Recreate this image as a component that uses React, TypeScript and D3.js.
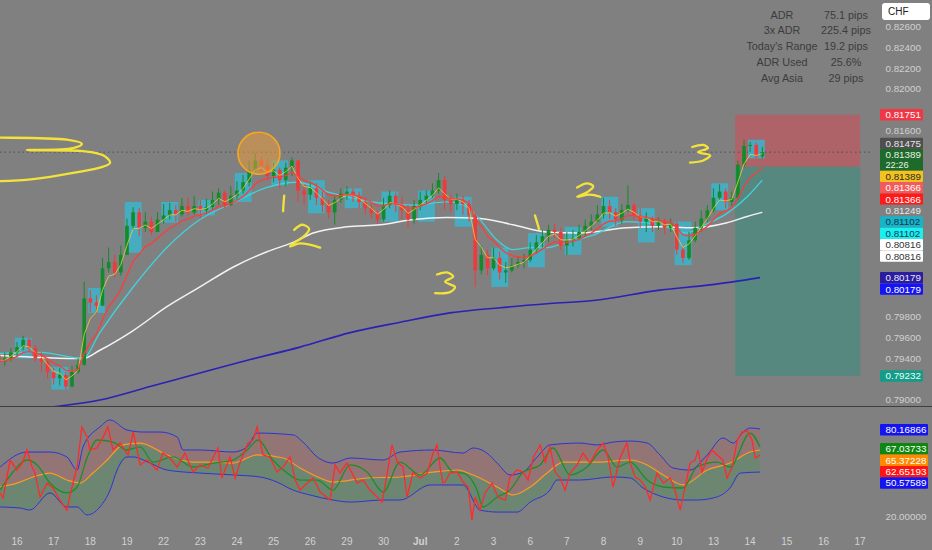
import React, { useEffect } from "react";
import * as d3 from "d3";

// ---- layout ----
const W = 932;
const H = 550;
const PLOT_R = 870;
const SPLIT = 406.5;

// ---- time axis (trading-day index, 0 = Jun 16) ----
const dayLabels = ["16", "17", "18", "19", "22", "23", "24", "25", "26", "29", "30", "Jul", "2", "3", "6", "7", "8", "9", "10", "13", "14", "15", "16", "17"];

// ---- 4h candles, starting Jun 15 12:00 ----
const candleStart = -0.5;
const candlesPerDay = 6;
const firstOpen = 0.7943;
const closes = [
  0.7937, 0.794, 0.7946, 0.7951, 0.7958, 0.795, 0.794, 0.7937, 0.7927, 0.7921,
  0.7924, 0.7913, 0.7927, 0.7934, 0.7998, 0.7994, 0.7991, 0.8027, 0.8033, 0.8023,
  0.804, 0.8068, 0.8081, 0.8066, 0.8072, 0.8062, 0.8074, 0.8078, 0.8083, 0.8079,
  0.8087, 0.8081, 0.8087, 0.8083, 0.8086, 0.8093, 0.81, 0.8088, 0.8097, 0.8102,
  0.811, 0.8122, 0.8131, 0.8126, 0.8116, 0.8122, 0.8112, 0.8124, 0.8131, 0.8102,
  0.8098, 0.8104, 0.8095, 0.8088, 0.8081, 0.8093, 0.8099, 0.8101, 0.8097, 0.8091,
  0.8085, 0.808, 0.8074, 0.8088, 0.8097, 0.8088, 0.8083, 0.8074, 0.8087, 0.8093,
  0.8097, 0.8102, 0.8112, 0.8093, 0.8089, 0.8093, 0.8089, 0.8078, 0.8025, 0.804,
  0.8027, 0.8037, 0.8023, 0.8025, 0.803, 0.8033, 0.8035, 0.8045, 0.8052, 0.8058,
  0.8064, 0.8062, 0.8049, 0.8054, 0.8056, 0.8062, 0.8068, 0.8072, 0.8079, 0.8087,
  0.8081, 0.8074, 0.8083, 0.8088, 0.8078, 0.8072, 0.8075, 0.8068, 0.8072, 0.8066,
  0.807, 0.8045, 0.8037, 0.8054, 0.8066, 0.8075, 0.8083, 0.8095, 0.8101, 0.8091,
  0.8095, 0.8127, 0.8145, 0.8146, 0.8135, 0.8139,
];
const highs = [
  0.7943, 0.7946, 0.795, 0.7956, 0.7962, 0.796, 0.7953, 0.7946, 0.7939, 0.7931,
  0.7931, 0.7927, 0.7933, 0.794, 0.8014, 0.8006, 0.8001, 0.8037, 0.8047, 0.804,
  0.8049, 0.8075, 0.8086, 0.8085, 0.8081, 0.8077, 0.8081, 0.8089, 0.809, 0.8088,
  0.8095, 0.8095, 0.8097, 0.8093, 0.8094, 0.8101, 0.8104, 0.8102, 0.8106, 0.8111,
  0.8117, 0.8131, 0.8138, 0.8135, 0.8131, 0.8129, 0.8124, 0.8129, 0.8134, 0.8131,
  0.8107, 0.811, 0.8109, 0.8101, 0.8093, 0.8098, 0.8104, 0.8106, 0.8104, 0.8101,
  0.8095, 0.8089, 0.8083, 0.8095, 0.8102, 0.81, 0.8096, 0.8088, 0.8093, 0.8101,
  0.8102, 0.8109, 0.8119, 0.8116, 0.8098, 0.8099, 0.8097, 0.8093, 0.8081, 0.8049,
  0.8045, 0.8047, 0.8043, 0.8033, 0.8037, 0.8039, 0.8041, 0.8052, 0.8059, 0.8064,
  0.8069, 0.807, 0.8066, 0.8062, 0.8064, 0.8069, 0.8074, 0.8079, 0.8088, 0.8095,
  0.8093, 0.8085, 0.8089, 0.8107, 0.809, 0.8085, 0.8081, 0.8077, 0.8076, 0.8075,
  0.8075, 0.8072, 0.8049, 0.8062, 0.8072, 0.8083, 0.8088, 0.8104, 0.8108, 0.8104,
  0.8101, 0.8131, 0.8151, 0.8149, 0.8148, 0.8144,
];
const lows = [
  0.7931, 0.7933, 0.7937, 0.7942, 0.7948, 0.7946, 0.7937, 0.7927, 0.7921, 0.7915,
  0.7914, 0.791, 0.7912, 0.7925, 0.7933, 0.7985, 0.7983, 0.7991, 0.8023, 0.8018,
  0.802, 0.804, 0.8064, 0.8058, 0.8062, 0.8059, 0.8062, 0.807, 0.8074, 0.8072,
  0.8077, 0.8078, 0.8079, 0.8075, 0.8079, 0.8083, 0.8088, 0.8085, 0.8087, 0.8093,
  0.8099, 0.8106, 0.812, 0.8118, 0.8112, 0.811, 0.8104, 0.8106, 0.8116, 0.8091,
  0.8088, 0.8093, 0.8088, 0.8081, 0.8075, 0.8069, 0.809, 0.8093, 0.8091, 0.8085,
  0.8079, 0.8075, 0.807, 0.8072, 0.8085, 0.8081, 0.8074, 0.8066, 0.807, 0.8083,
  0.8089, 0.8095, 0.8099, 0.8083, 0.8081, 0.8083, 0.8079, 0.8072, 0.8009, 0.8021,
  0.802, 0.8025, 0.8016, 0.8013, 0.8023, 0.8027, 0.8027, 0.8033, 0.8041, 0.8047,
  0.8052, 0.8056, 0.8045, 0.804, 0.8048, 0.8054, 0.8058, 0.8064, 0.8072, 0.8075,
  0.8075, 0.8068, 0.807, 0.8081, 0.8074, 0.8066, 0.8062, 0.8062, 0.8064, 0.806,
  0.8062, 0.804, 0.8032, 0.8035, 0.8052, 0.8062, 0.8072, 0.8081, 0.8093, 0.8085,
  0.8087, 0.8093, 0.8124, 0.8139, 0.8133, 0.8133,
];

// ---- Asia session boxes (day index, high, low) ----
const sessionDays = [0, 1, 2, 3, 4, 5, 6, 7, 8, 9, 10, 11, 12, 13, 14, 15, 16, 17, 18, 19, 20];
const sessionHigh = [0.796, 0.7932, 0.8008, 0.8091, 0.8091, 0.8093, 0.8119, 0.8131, 0.8112, 0.8104, 0.8101, 0.8102, 0.8096, 0.8047, 0.8061, 0.8067, 0.8096, 0.8085, 0.8072, 0.8109, 0.8151];
const sessionLow = [0.794, 0.791, 0.7984, 0.8042, 0.8071, 0.8078, 0.8091, 0.8107, 0.808, 0.8085, 0.8072, 0.8072, 0.8067, 0.8009, 0.8028, 0.804, 0.8067, 0.8052, 0.803, 0.8083, 0.8133];

// ---- slow moving averages [day, price] ----
const maCyan: [number, number][] = [
  [-0.46, 0.7945], [0.63, 0.7946], [1.8, 0.794], [2.26, 0.7965], [3.17, 0.8009], [4.09, 0.8047],
  [4.99, 0.8074], [5.89, 0.809], [6.82, 0.8105], [7.64, 0.811], [8.54, 0.81], [9.9, 0.809],
  [10.8, 0.8088], [11.73, 0.8091], [12.28, 0.8086], [12.63, 0.8074], [13.1, 0.8054], [13.53, 0.8045],
  [14.0, 0.8047], [14.46, 0.8047], [14.9, 0.8051], [15.72, 0.8059], [16.64, 0.8072], [17.54, 0.8069],
  [18.28, 0.8061], [18.64, 0.8067], [19.37, 0.808], [19.92, 0.8096], [20.33, 0.8112],
];
const maWhite: [number, number][] = [
  [-0.46, 0.7943], [1.8, 0.794], [2.26, 0.7948], [3.17, 0.7967], [4.09, 0.799], [4.99, 0.8009],
  [5.89, 0.8028], [6.82, 0.8043], [7.53, 0.8052], [8.08, 0.8061], [9.0, 0.8067], [9.9, 0.8069],
  [10.8, 0.8074], [11.73, 0.8076], [12.63, 0.8075], [13.53, 0.8069], [14.46, 0.8062], [15.36, 0.8061],
  [16.64, 0.8066], [17.54, 0.8067], [18.44, 0.8066], [19.37, 0.8071], [19.92, 0.8077], [20.33, 0.8081],
];
const maBlue: [number, number][] = [
  [-0.46, 0.7888], [0.9, 0.7893], [2.26, 0.79], [3.63, 0.7913], [4.99, 0.7926], [6.36, 0.7939],
  [7.72, 0.7951], [9.09, 0.7965], [10.45, 0.7975], [11.81, 0.7984], [13.18, 0.7989], [14.54, 0.7993],
  [15.72, 0.7996], [17.54, 0.8006], [18.91, 0.8011], [20.27, 0.8018],
];

// ---- oscillator panel [day, value] ----
const oscLine: [number, number][] = [
  [-0.46, 36.6], [-0.38, 33.1], [-0.19, 59.3], [0, 52.4], [0.16, 57.9], [0.27, 66.2], [0.41, 54.5], [0.49, 50.3],
  [0.63, 33.8], [0.82, 43.4], [0.98, 40], [1.17, 31.7], [1.36, 24.8], [1.5, 40.7], [1.64, 54.5], [1.77, 82.1],
  [1.91, 75.2], [1.99, 66.2], [2.18, 67.6], [2.35, 75.2], [2.48, 82.1], [2.62, 66.2], [2.81, 71], [3.03, 62.8],
  [3.17, 78.6], [3.36, 55.9], [3.55, 59.3], [3.82, 52.4], [3.98, 64.1], [4.17, 60.7], [4.37, 54.5], [4.58, 64.1],
  [4.8, 51], [4.99, 55.9], [5.21, 53.8], [5.48, 67.6], [5.59, 46.9], [5.81, 61.4], [5.95, 46.9], [6.08, 57.2],
  [6.3, 71], [6.44, 73.1], [6.55, 82.1], [6.71, 62.8], [6.9, 61.4], [7.09, 51], [7.26, 54.5], [7.45, 61.4],
  [7.59, 45.5], [7.72, 38.6], [7.86, 42.1], [8.08, 46.9], [8.27, 37.2], [8.54, 31.7], [8.68, 55.9], [8.81, 50.3],
  [9.0, 57.2], [9.28, 43.4], [9.44, 45.5], [9.63, 38.6], [9.82, 33.8], [9.96, 30.3], [10.1, 50.3], [10.23, 69.7],
  [10.37, 57.9], [10.53, 54.5], [10.64, 33.8], [10.8, 50.3], [11.0, 46.9], [11.19, 50.3], [11.35, 64.1], [11.46, 69.7],
  [11.54, 54.5], [11.62, 43.4], [11.68, 44.1], [11.81, 50.3], [12.01, 51], [12.17, 44.1], [12.31, 40.7], [12.41, 17.9],
  [12.5, 33.8], [12.63, 24.8], [12.77, 36.6], [12.96, 43.4], [13.12, 33.8], [13.32, 31.7], [13.45, 47.6], [13.64, 52.4],
  [13.81, 51], [13.94, 45.5], [14.08, 60.7], [14.27, 69.7], [14.41, 57.9], [14.54, 68.3], [14.68, 51], [14.82, 46.9],
  [14.95, 38.6], [15.09, 50.3], [15.28, 55.9], [15.44, 64.1], [15.63, 57.2], [15.83, 66.2], [15.99, 71], [16.13, 60.7],
  [16.26, 40.7], [16.45, 60.7], [16.64, 71], [16.73, 57.2], [16.86, 47.6], [17.0, 45.5], [17.14, 40.7], [17.27, 31.7],
  [17.46, 50.3], [17.63, 43.4], [17.82, 46.9], [17.95, 38.6], [18.09, 24.8], [18.23, 40.7], [18.36, 57.2], [18.5, 59.3],
  [18.58, 66.2], [18.69, 51], [18.83, 60.7], [18.96, 66.2], [19.1, 62.8], [19.26, 59.3], [19.37, 46.9], [19.51, 54.5],
  [19.65, 73.1], [19.78, 78.6], [19.92, 79.3], [20.05, 73.1], [20.14, 60.7], [20.27, 62.8],
];
const oscUpper: [number, number][] = [
  [-0.46, 54.5], [0.27, 64.8], [0.9, 64.8], [1.36, 61.4], [1.64, 52.4], [1.8, 68.3], [2.26, 82.1], [2.54, 86.9],
  [3.0, 80], [3.44, 78.6], [3.9, 78.6], [4.37, 75.2], [4.53, 66.2], [4.99, 66.2], [5.89, 64.8], [6.28, 68.3],
  [6.55, 77.9], [7.53, 76.6], [7.8, 71.7], [8.19, 61.4], [8.62, 57.2], [9.09, 60.7], [9.99, 59.3], [10.45, 64.8],
  [11.35, 66.2], [12.17, 64.1], [12.44, 67.6], [12.82, 64.1], [13.1, 57.2], [13.45, 49], [13.81, 51], [14.19, 61.4],
  [14.54, 69.7], [15.36, 71], [15.83, 69.7], [16.26, 71.7], [16.73, 72.4], [17.19, 71], [17.54, 62.8], [17.9, 53.8],
  [18.36, 52.4], [18.83, 62.8], [19.26, 74.5], [19.54, 71], [19.81, 78.6], [20.0, 81.4], [20.27, 80.7],
];
const oscLower: [number, number][] = [
  [-0.46, 26.9], [0.08, 26.2], [0.35, 24.8], [0.9, 36.6], [1.36, 26.9], [1.64, 26.9], [1.91, 21.4], [2.26, 26.9],
  [2.54, 38.6], [2.73, 52.4], [3.0, 61.4], [3.17, 61.4], [3.63, 57.2], [4.09, 52.4], [4.99, 50.3], [5.89, 49],
  [6.63, 47.6], [7.09, 44.1], [7.53, 38.6], [7.99, 35.2], [8.62, 31.7], [9.09, 30.3], [9.99, 31.7], [10.45, 31.7],
  [11.27, 42.1], [12.17, 42.1], [12.63, 24.8], [13.1, 23.4], [13.64, 23.4], [14.0, 30.3], [14.54, 38.6], [14.73, 45.5],
  [15.36, 45.5], [16.26, 47.6], [16.73, 46.9], [17.08, 40], [17.63, 33.8], [18.17, 31.7], [18.55, 31.7], [18.99, 33.1],
  [19.45, 40], [19.73, 50.3], [20.27, 51],
];
const oscMid: [number, number][] = [
  [-0.46, 40.7], [0, 43.4], [0.44, 47.6], [0.9, 50.3], [1.36, 45.5], [1.72, 43.4], [2.07, 50.3], [2.46, 59.3],
  [2.89, 69.7], [3.36, 71], [4.09, 62.8], [4.8, 57.9], [5.46, 57.9], [5.89, 57.2], [6.55, 62.8], [7.26, 60.7],
  [7.72, 53.8], [8.27, 46.9], [8.62, 44.1], [9.55, 46.9], [10.45, 47.6], [11.35, 51], [12.01, 52.4], [12.44, 49],
  [13.1, 40.7], [13.53, 35.2], [14.0, 40.7], [14.46, 50.3], [14.9, 57.9], [15.83, 57.9], [16.73, 59.3], [17.19, 55.9],
  [17.63, 49], [18.17, 42.1], [18.83, 52.4], [19.45, 57.2], [20.0, 64.8], [20.27, 66.2],
];
const oscSignal: [number, number][] = [
  [-0.46, 38.6], [-0.11, 51], [0.27, 59.3], [0.55, 55.9], [0.9, 43.4], [1.36, 36.6], [1.64, 40.7], [1.91, 60.7],
  [2.18, 73.1], [2.62, 71.7], [3.0, 66.2], [3.36, 68.3], [3.71, 57.9], [4.26, 61.4], [4.8, 54.5], [5.35, 57.2],
  [5.89, 59.3], [6.28, 66.2], [6.58, 73.1], [6.98, 59.3], [7.37, 50.3], [7.72, 45.5], [8.19, 45.5], [8.62, 38.6],
  [9.09, 55.9], [9.55, 51], [9.99, 37.2], [10.45, 57.9], [11.0, 49], [11.54, 60.7], [11.9, 51], [12.17, 50.3],
  [12.55, 38.6], [12.71, 26.9], [13.1, 33.8], [13.45, 38.6], [13.81, 51], [14.27, 55.9], [14.62, 67.6], [15.09, 49],
  [15.55, 54.5], [15.99, 66.2], [16.37, 54.5], [16.73, 57.9], [17.19, 45.5], [17.63, 40.7], [18.17, 40], [18.55, 54.5],
  [19.1, 57.9], [19.45, 54.5], [20.0, 77.9], [20.27, 68.3],
];

// ---- long/short position tool ----
const posStart = 19.59;
const posEnd = 23.0;
const posStop = 0.81751;
const posEntry = 0.81249;
const posTarget = 0.79232;

// ---- right-scale value tags ----
const priceTags = [
  { v: 0.81751, text: "0.81751", bg: "#f23645", fg: "#ffffff" },
  { v: 0.81475, text: "0.81475", bg: "#4f4f4f", fg: "#e6e6e6" },
  { v: 0.81389, text: "0.81389", sub: "22:26", bg: "#1d6a2a", fg: "#e8f0e8" },
  { v: 0.81389, text: "0.81389", bg: "#f4c21c", fg: "#2b2b2b" },
  { v: 0.81366, text: "0.81366", bg: "#f25b5b", fg: "#ffffff" },
  { v: 0.81366, text: "0.81366", bg: "#ff1a1a", fg: "#ffffff" },
  { v: 0.81249, text: "0.81249", bg: "#808080", fg: "#e8e8e8" },
  { v: 0.81102, text: "0.81102", bg: "#17b3c6", fg: "#173450" },
  { v: 0.81102, text: "0.81102", bg: "#19f0f0", fg: "#173450" },
  { v: 0.80816, text: "0.80816", bg: "#ffffff", fg: "#333333" },
  { v: 0.80816, text: "0.80816", bg: "#ffffff", fg: "#333333" },
  { v: 0.80179, text: "0.80179", bg: "#2c1d9c", fg: "#e8e8ff" },
  { v: 0.80179, text: "0.80179", bg: "#1414f5", fg: "#ffffff" },
  { v: 0.79232, text: "0.79232", bg: "#159c88", fg: "#e8fff8" },
];
const oscTags = [
  { v: 80.16866, text: "80.16866", bg: "#1414f0", fg: "#ffffff" },
  { v: 67.03733, text: "67.03733", bg: "#0d870f", fg: "#ffffff" },
  { v: 65.37228, text: "65.37228", bg: "#ff8a00", fg: "#ffffff" },
  { v: 62.65193, text: "62.65193", bg: "#ff1414", fg: "#ffffff" },
  { v: 50.57589, text: "50.57589", bg: "#1414f0", fg: "#ffffff" },
];
const oscTicks = [20, 40, 60, 80];

// ---- stats table ----
const statLabels = ["ADR", "3x ADR", "Today's Range", "ADR Used", "Avg Asia"];
const statValues = ["75.1 pips", "225.4 pips", "19.2 pips", "25.6%", "29 pips"];

// ---- hand drawn marks [day, price] ----
const scribbles: [number, number][][] = [
  [[-0.8, 0.8153], [-0.46, 0.8153], [1.36, 0.8151], [1.77, 0.8147], [1.53, 0.8143], [0.27, 0.8141],
   [1.8, 0.814], [2.35, 0.8136], [2.54, 0.8129], [2.35, 0.8125], [1.53, 0.8119], [0.44, 0.8113], [-0.46, 0.8111], [-0.8, 0.8111]],
  [[7.29, 0.8097], [7.27, 0.8089], [7.26, 0.8082]],
  [[7.56, 0.8064], [7.78, 0.8069], [7.97, 0.8065], [7.83, 0.8058], [7.5, 0.805], [7.45, 0.8048], [7.72, 0.8051], [8.27, 0.8047]],
  [[11.46, 0.8021], [11.73, 0.8023], [11.9, 0.8019], [11.68, 0.8014], [11.95, 0.8009], [11.81, 0.8004], [11.41, 0.8003]],
  [[14.13, 0.8078], [14.19, 0.8071], [14.24, 0.8065]],
  [[15.28, 0.8105], [15.55, 0.8109], [15.72, 0.8106], [15.58, 0.8101], [15.28, 0.8096], [15.63, 0.8098], [15.91, 0.8096]],
  [[18.42, 0.8144], [18.72, 0.8146], [18.85, 0.8143], [18.58, 0.8139], [18.91, 0.8136], [18.72, 0.8131], [18.36, 0.8129]],
];
const circleMark: [number, number] = [6.6, 0.8138];

const FONT = "'Liberation Sans', Arial, sans-serif";
const TAG_H = 11.4;
const TAG_FS = 9.8;
const TWO_LINE_H = 21.6;

function ema(values: number[], n: number) {
  const a = 2 / (n + 1);
  let e = values[0];
  return values.map((v) => (e = e + a * (v - e)));
}

function interp(series: [number, number][], t: number) {
  const i = d3.bisector((d: [number, number]) => d[0]).right(series, t);
  if (i <= 0) return series[0][1];
  if (i >= series.length) return series[series.length - 1][1];
  const [t0, v0] = series[i - 1];
  const [t1, v1] = series[i];
  return v0 + ((v1 - v0) * (t - t0)) / (t1 - t0);
}

// push overlapping tags downward, like the price scale does
function stack(tags: { v: number; sub?: string }[], scale: (v: number) => number) {
  let bottom = -Infinity;
  return tags.map((tg) => {
    const h = tg.sub ? TWO_LINE_H : TAG_H;
    const top = Math.max(scale(tg.v) - TAG_H / 2, bottom);
    bottom = top + h;
    return { top, h };
  });
}

export default function App() {
  useEffect(() => {
    document.body.style.margin = "0";
    document.body.style.background = "#808080";
  }, []);

  const x = d3.scaleLinear().domain([-0.464, 23.27]).range([0, PLOT_R]);
  const y = d3.scaleLinear().domain([0.79, 0.826]).range([400, 26.7]);
  const yo = d3.scaleLinear().domain([20, 80]).range([517, 430]);

  const step = (x(1) - x(0)) / candlesPerDay;
  const bodyW = step * 0.6;
  const candles = closes.map((c, k) => ({
    t: candleStart + k / candlesPerDay,
    o: k === 0 ? firstOpen : closes[k - 1],
    c,
    h: highs[k],
    l: lows[k],
  }));
  const emaFast = ema(closes, 3);
  const emaSlow = ema(closes, 8);
  const emaPts = (vals: number[]) => vals.map((v, k) => [candles[k].t, v] as [number, number]);

  const priceLine = d3.line<[number, number]>().x((d) => x(d[0])).y((d) => y(d[1]));
  const smoothPrice = d3.line<[number, number]>().x((d) => x(d[0])).y((d) => y(d[1])).curve(d3.curveMonotoneX);
  const oscLinePath = d3.line<[number, number]>().x((d) => x(d[0])).y((d) => yo(d[1]));
  const oscSmooth = d3.line<[number, number]>().x((d) => x(d[0])).y((d) => yo(d[1])).curve(d3.curveMonotoneX);
  const scribblePath = d3.line<[number, number]>().x((d) => x(d[0])).y((d) => y(d[1])).curve(d3.curveCatmullRom.alpha(0.5));

  const grid = d3.range(-0.46, 20.27, 0.02);
  const fillArea = (a: [number, number][], b: [number, number][]) =>
    d3.area<number>().x((t) => x(t)).y0((t) => yo(interp(a, t))).y1((t) => yo(interp(b, t)))(grid) || "";

  const pTagPos = stack(priceTags, y);
  const oTagPos = stack(oscTags, yo);
  const free = (py: number, pos: { top: number; h: number }[]) =>
    pos.every((p) => py + 6 < p.top || py - 6 > p.top + p.h);
  const priceTicks = d3.range(0, 19).map((i) => 0.79 + i * 0.002).filter((p) => free(y(p), pTagPos));
  const oscTickShown = oscTicks.filter((v) => free(yo(v), oTagPos));
  const lastClose = closes[closes.length - 1];

  return (
    <svg width={W} height={H} style={{ position: "absolute", left: 0, top: 0, display: "block" }} fontFamily={FONT}>
      <defs>
        <clipPath id="mainClip">
          <rect x={0} y={0} width={PLOT_R} height={SPLIT} />
        </clipPath>
        <clipPath id="oscClip">
          <rect x={0} y={SPLIT + 1} width={PLOT_R} height={125} />
        </clipPath>
      </defs>
      <rect x={0} y={0} width={W} height={H} fill="#808080" />

      <g clipPath="url(#mainClip)">
        {/* position tool */}
        <rect x={x(posStart)} y={y(posStop)} width={x(posEnd) - x(posStart)} height={y(posEntry) - y(posStop)} fill="#f23645" fillOpacity={0.4} />
        <rect x={x(posStart)} y={y(posEntry)} width={x(posEnd) - x(posStart)} height={y(posTarget) - y(posEntry)} fill="#089981" fillOpacity={0.35} />

        {/* last price */}
        <line x1={0} x2={PLOT_R} y1={y(lastClose)} y2={y(lastClose)} stroke="#505050" strokeWidth={1} strokeDasharray="1.5,3" />

        {/* sessions */}
        {sessionDays.map((d, i) => {
          const t0 = d - 0.06;
          const t1 = Math.min(d + 0.4, candles[candles.length - 1].t + 0.08);
          return (
            <rect key={"s" + i} x={x(t0)} width={x(t1) - x(t0)} y={y(sessionHigh[i])} height={y(sessionLow[i]) - y(sessionHigh[i])} fill="#3db2c7" fillOpacity={0.88} />
          );
        })}

        {/* slow averages */}
        <path d={smoothPrice(maBlue) || ""} fill="none" stroke="#2a22b4" strokeWidth={1.6} />
        <path d={smoothPrice(maWhite) || ""} fill="none" stroke="#f2f2f2" strokeWidth={1.5} />
        <path d={smoothPrice(maCyan) || ""} fill="none" stroke="#3fd3dc" strokeWidth={1.3} />

        {/* candles */}
        {candles.map((c, k) => {
          const cx = x(c.t);
          const up = c.c >= c.o;
          const col = up ? "#138a2c" : "#ee3a3a";
          const top = y(Math.max(c.o, c.c));
          const bot = y(Math.min(c.o, c.c));
          return (
            <g key={"c" + k}>
              <line x1={cx} x2={cx} y1={y(c.h)} y2={y(c.l)} stroke={col} strokeWidth={1} />
              <rect x={cx - bodyW / 2} y={top} width={bodyW} height={Math.max(1, bot - top)} fill={col} />
            </g>
          );
        })}

        {/* fast averages */}
        <path d={priceLine(emaPts(emaFast)) || ""} fill="none" stroke="#f5d33a" strokeWidth={1} strokeOpacity={0.75} />
        <path d={priceLine(emaPts(emaSlow)) || ""} fill="none" stroke="#ff3b3b" strokeWidth={1.3} />

        {/* drawings */}
        <circle cx={x(circleMark[0])} cy={y(circleMark[1])} r={21} fill="#e99a3a" fillOpacity={0.55} stroke="#f5a623" strokeWidth={1.6} />
        {scribbles.map((s, i) => (
          <path key={"w" + i} d={scribblePath(s) || ""} fill="none" stroke="#f3e23a" strokeWidth={2.3} strokeLinecap="round" strokeLinejoin="round" />
        ))}
      </g>

      <line x1={0} x2={W} y1={SPLIT} y2={SPLIT} stroke="#3e3e3e" strokeWidth={1.2} />

      {/* oscillator */}
      <g clipPath="url(#oscClip)">
        <path d={fillArea(oscMid, oscUpper)} fill="#ff4040" fillOpacity={0.16} />
        <path d={fillArea(oscLower, oscMid)} fill="#1c9e3a" fillOpacity={0.2} />
        <path d={oscSmooth(oscUpper) || ""} fill="none" stroke="#2c34d4" strokeWidth={1} />
        <path d={oscSmooth(oscLower) || ""} fill="none" stroke="#2c34d4" strokeWidth={1} />
        <path d={oscSmooth(oscMid) || ""} fill="none" stroke="#ff9a1f" strokeWidth={1.2} />
        <path d={oscSmooth(oscSignal) || ""} fill="none" stroke="#1b8f26" strokeWidth={1.3} />
        <path d={oscLinePath(oscLine) || ""} fill="none" stroke="#ff2a2a" strokeWidth={1.3} />
      </g>

      {/* price scale */}
      {priceTicks.map((p) => (
        <text key={"pt" + p} x={885.5} y={y(p)} dy="0.35em" fontSize={TAG_FS} fill="#d0d0d0">
          {p.toFixed(5)}
        </text>
      ))}
      {priceTags.map((tg, i) => (
        <g key={"ptag" + i}>
          <rect x={880} y={pTagPos[i].top} width={43} height={pTagPos[i].h} fill={tg.bg} rx={1} />
          <text x={885.5} y={pTagPos[i].top + TAG_H / 2} dy="0.35em" fontSize={TAG_FS} fill={tg.fg}>
            {tg.text}
          </text>
          {tg.sub && (
            <text x={885.5} y={pTagPos[i].top + 16.2} dy="0.35em" fontSize={9.2} fill={tg.fg}>
              {tg.sub}
            </text>
          )}
        </g>
      ))}

      {/* oscillator scale */}
      {oscTickShown.map((v) => (
        <text key={"ot" + v} x={885.5} y={yo(v)} dy="0.35em" fontSize={TAG_FS} fill="#d0d0d0">
          {v.toFixed(5)}
        </text>
      ))}
      {oscTags.map((tg, i) => (
        <g key={"otag" + i}>
          <rect x={880} y={oTagPos[i].top} width={48} height={oTagPos[i].h} fill={tg.bg} rx={1} />
          <text x={885.5} y={oTagPos[i].top + TAG_H / 2} dy="0.35em" fontSize={TAG_FS} fill={tg.fg}>
            {tg.text}
          </text>
        </g>
      ))}

      {/* time scale */}
      {dayLabels.map((lab, i) => (
        <text key={"d" + i} x={x(i)} y={541} dy="0.35em" textAnchor="middle" fontSize={10} fill="#d2d2d2" fontWeight={lab === "Jul" ? "bold" : "normal"}>
          {lab}
        </text>
      ))}

      {/* stats */}
      {statLabels.map((lab, i) => (
        <g key={"st" + i}>
          <text x={782} y={15 + i * 15.7} dy="0.35em" textAnchor="middle" fontSize={10.8} fill="#3c3c3c">
            {lab}
          </text>
          <text x={846} y={15 + i * 15.7} dy="0.35em" textAnchor="middle" fontSize={10.8} fill="#3c3c3c">
            {statValues[i]}
          </text>
        </g>
      ))}

      <rect x={882} y={3} width={48} height={17} rx={3} fill="#ffffff" />
      <text x={888} y={11.5} dy="0.35em" fontSize={10} fill="#222">
        CHF
      </text>
    </svg>
  );
}
